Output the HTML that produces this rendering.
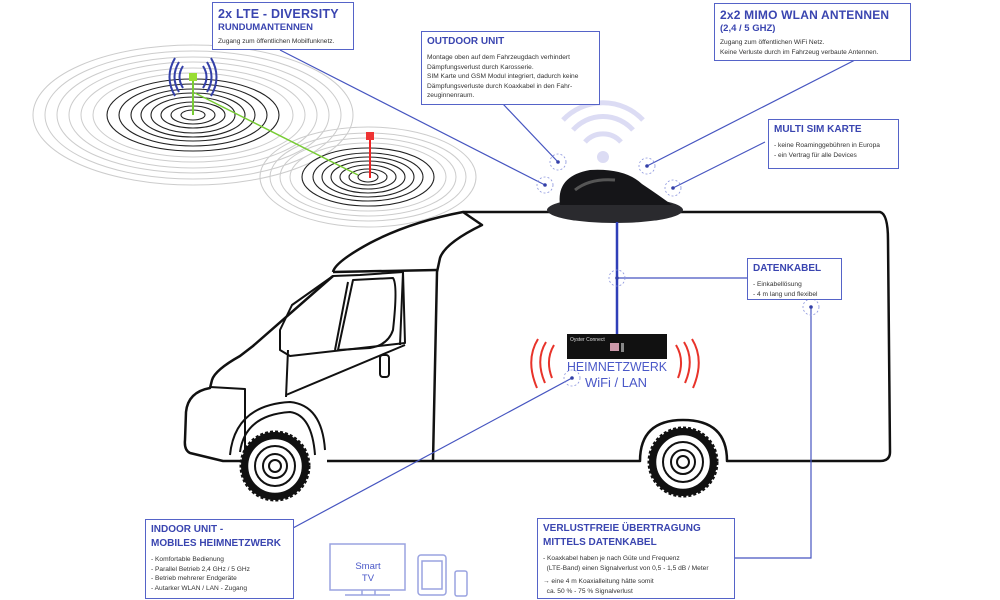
<!DOCTYPE html>
<html><head><meta charset="utf-8">
<style>
body{margin:0;width:1000px;height:600px;background:#fff;position:relative;overflow:hidden;font-family:"Liberation Sans","DejaVu Sans",sans-serif}
.box{position:absolute;border:1.5px solid #5563c8;background:#fff;box-sizing:border-box;padding:3px 5px;color:#333;font-size:6.6px;line-height:9.5px;white-space:nowrap}
.box h1{margin:0;font-size:12.5px;line-height:16px;color:#3a45b0;font-weight:bold;letter-spacing:.2px}
.box h2{margin:0 0 4px;font-size:10px;line-height:14px;color:#3a45b0;font-weight:bold}
svg{position:absolute;left:0;top:0}
</style></head><body>
<svg width="1000" height="600" viewBox="0 0 1000 600">
<g fill="none">
<g stroke="#ccc" stroke-width="1">
<ellipse cx="193" cy="115" rx="100" ry="42"/><ellipse cx="193" cy="115" rx="112" ry="47"/><ellipse cx="193" cy="115" rx="124" ry="53"/><ellipse cx="193" cy="115" rx="136" ry="58"/><ellipse cx="193" cy="115" rx="148" ry="64"/><ellipse cx="193" cy="115" rx="160" ry="70"/>
<ellipse cx="368" cy="177" rx="78" ry="34"/><ellipse cx="368" cy="177" rx="88" ry="39"/><ellipse cx="368" cy="177" rx="98" ry="44"/><ellipse cx="368" cy="177" rx="108" ry="50"/>
</g>
<g stroke="#222" stroke-width="1.1">
<ellipse cx="193" cy="115" rx="12" ry="5"/><ellipse cx="193" cy="115" rx="22" ry="9"/><ellipse cx="193" cy="115" rx="32" ry="13"/><ellipse cx="193" cy="115" rx="42" ry="18"/><ellipse cx="193" cy="115" rx="52" ry="22"/><ellipse cx="193" cy="115" rx="62" ry="26"/><ellipse cx="193" cy="115" rx="74" ry="31"/><ellipse cx="193" cy="115" rx="86" ry="36"/>
<ellipse cx="368" cy="177" rx="10" ry="5"/><ellipse cx="368" cy="177" rx="19" ry="8"/><ellipse cx="368" cy="177" rx="28" ry="12"/><ellipse cx="368" cy="177" rx="37" ry="16"/><ellipse cx="368" cy="177" rx="46" ry="20"/><ellipse cx="368" cy="177" rx="55" ry="24"/><ellipse cx="368" cy="177" rx="66" ry="29"/>
</g>
<line x1="195" y1="93" x2="358" y2="175" stroke="#7c3" stroke-width="1.5"/>
<line x1="193" y1="80" x2="193" y2="115" stroke="#7c3" stroke-width="2"/>
<rect x="189" y="73" width="8" height="8" fill="#9d3"/>
<path d="M183 66 Q176 77 183 88 M203 66 Q210 77 203 88 M179 62 Q170 77 179 92 M207 62 Q216 77 207 92 M175 58 Q164 77 175 96 M211 58 Q222 77 211 96" stroke="#3440a8" stroke-width="2"/>
<line x1="370" y1="140" x2="370" y2="178" stroke="#e22" stroke-width="2"/>
<rect x="366" y="132" width="8" height="8" fill="#e33"/>
<circle cx="603" cy="157" r="6" fill="#dcdcf4"/>
<path d="M585 142 A24 24 0 0 1 621 142 M573 130 A40 40 0 0 1 633 130 M563 120 A55 55 0 0 1 643 120" stroke="#dcdcf4" stroke-width="5"/>
<g stroke="#111" stroke-width="2.5" stroke-linejoin="round">
<path d="M463 212 L880 212 Q888 214 888 240 L890 452 Q890 461 880 461 L727 461 Q727 420 683 420 Q640 420 640 461 L433 461 L327 461 M245 461 L223 461 L190 453 Q184 450 185 440 L186 412 Q188 392 210 388 L212 380 Q215 370 240 356 L253 346 L333 276"/>
<path d="M333 272 Q335 262 370 243 Q410 222 463 212 L482 225 Q445 243 440 258 L437 272 L433 461"/>
<path d="M333 272 L437 270"/>
<path d="M333 276 L292 305 L280 330 L280 350 L290 356 L405 343 L403 272 L360 275 Z" stroke-width="2"/>
<path d="M348 282 L335 350 M403 272 L400 345" stroke-width="2"/>
<path d="M353 280 L393 278 Q398 285 393 330 Q388 345 370 348 L338 350 Z" stroke-width="2"/>
<path d="M288 350 L286 397 M286 395 L405 345" stroke-width="2"/>
<path d="M230 455 Q235 405 290 402 Q322 405 325 450 M240 452 Q245 415 290 412 Q312 415 315 455" stroke-width="2"/>
<path d="M210 387 L245 389 L245 452" stroke-width="2"/>
<rect x="380" y="355" width="9" height="22" rx="3" stroke-width="2"/>
</g>
<g stroke="#111">
<circle cx="275" cy="466" r="34" fill="#111" stroke-dasharray="3 2" stroke-width="3"/><circle cx="275" cy="466" r="28" fill="#fff" stroke-width="2.5"/><circle cx="275" cy="466" r="20" stroke-width="2"/><circle cx="275" cy="466" r="12" stroke-width="2"/><circle cx="275" cy="466" r="6" stroke-width="2"/>
<circle cx="683" cy="462" r="34" fill="#111" stroke-dasharray="3 2" stroke-width="3"/><circle cx="683" cy="462" r="28" fill="#fff" stroke-width="2.5"/><circle cx="683" cy="462" r="20" stroke-width="2"/><circle cx="683" cy="462" r="12" stroke-width="2"/><circle cx="683" cy="462" r="6" stroke-width="2"/>
</g>
<ellipse cx="615" cy="210" rx="68" ry="13" fill="#2a2a2e"/>
<path d="M560 205 Q556 176 590 170 Q625 168 642 184 Q660 196 672 205 Z" fill="#151518"/>
<path d="M575 190 Q590 178 615 180" stroke="#555" stroke-width="3"/>
<g stroke="#4655c0" stroke-width="1.2">
<line x1="280" y1="50" x2="545" y2="185"/>
<line x1="503" y1="104" x2="558" y2="162"/>
<line x1="855" y1="60" x2="647" y2="166"/>
<line x1="765" y1="142" x2="673" y2="188"/>
<line x1="747" y1="278" x2="616" y2="278"/>
<polyline points="811,307 811,558 734,558"/>
<line x1="293" y1="528" x2="572" y2="378"/>
<line x1="617" y1="222" x2="617" y2="336" stroke="#2f3fb8" stroke-width="2.5"/>
</g>
<g stroke="#8a94dd" stroke-dasharray="2 2" stroke-width="0.8" fill="none">
<circle cx="545" cy="185" r="8"/><circle cx="558" cy="162" r="8"/><circle cx="647" cy="166" r="8"/><circle cx="673" cy="188" r="8"/><circle cx="617" cy="278" r="8"/><circle cx="811" cy="307" r="8"/><circle cx="572" cy="378" r="8"/>
</g>
<g fill="#3440a8"><circle cx="545" cy="185" r="1.8"/><circle cx="558" cy="162" r="1.8"/><circle cx="647" cy="166" r="1.8"/><circle cx="673" cy="188" r="1.8"/><circle cx="617" cy="278" r="1.8"/><circle cx="811" cy="307" r="1.8"/><circle cx="572" cy="378" r="1.8"/></g>
<rect x="567" y="334" width="100" height="25" fill="#111"/>
<text x="570" y="341" font-size="5" fill="#ddd" font-family="Liberation Sans">Oyster Connect</text>
<rect x="610" y="343" width="9" height="8" fill="#c9a"/><rect x="621" y="343" width="3" height="9" fill="#888"/>
<g stroke="#e8332a" stroke-width="2">
<path d="M554 345 Q545 360 552 378 M546 342 Q535 360 545 383 M538 339 Q525 360 537 388"/>
<path d="M676 345 Q685 360 678 378 M684 342 Q695 360 685 383 M692 339 Q705 360 693 388"/>
</g>
<text x="567" y="371" textLength="100" lengthAdjust="spacingAndGlyphs" font-size="13" fill="#4a58c8" font-family="Liberation Sans">HEIMNETZWERK</text>
<text x="616" y="387" text-anchor="middle" font-size="13" fill="#4a58c8" font-family="Liberation Sans">WiFi / LAN</text>
<g stroke="#9aa3e0" stroke-width="1.5">
<rect x="330" y="544" width="75" height="46"/><path d="M345 595 L390 595 M362 590 L362 595 M375 590 L375 595"/>
<rect x="418" y="555" width="28" height="40" rx="3"/><rect x="422" y="561" width="20" height="28"/>
<rect x="455" y="571" width="12" height="25" rx="2"/>
</g>
<text x="368" y="569" text-anchor="middle" font-size="9.5" fill="#4a58c8" font-family="Liberation Sans">Smart</text>
<text x="368" y="581" text-anchor="middle" font-size="9.5" fill="#4a58c8" font-family="Liberation Sans">TV</text>
</g>
</svg>

<div class="box" style="left:212px;top:2px;width:142px;height:48px"><h1>2x LTE - DIVERSITY</h1><h2 style="font-size:9.5px;line-height:12px;margin-bottom:3px">RUNDUMANTENNEN</h2>Zugang zum öffentlichen Mobilfunknetz.</div>
<div class="box" style="left:421px;top:31px;width:179px;height:74px"><h2>OUTDOOR UNIT</h2>Montage oben auf dem Fahrzeugdach verhindert<br>Dämpfungsverlust durch Karosserie.<br>SIM Karte und GSM Modul integriert, dadurch keine<br>Dämpfungsverluste durch Koaxkabel in den Fahr-<br>zeuginnenraum.</div>
<div class="box" style="left:714px;top:3px;width:197px;height:58px"><h1 style="font-size:12px">2x2 MIMO WLAN ANTENNEN</h1><h2 style="font-size:9.5px;line-height:12px;margin-bottom:3px">(2,4 / 5 GHZ)</h2>Zugang zum öffentlichen WiFi Netz.<br>Keine Verluste durch im Fahrzeug verbaute Antennen.</div>
<div class="box" style="left:768px;top:119px;width:131px;height:50px"><h2>MULTI SIM KARTE</h2>- keine Roaminggebühren in Europa<br>- ein Vertrag für alle Devices</div>
<div class="box" style="left:747px;top:258px;width:95px;height:42px"><h2>DATENKABEL</h2>- Einkabellösung<br>- 4 m lang und flexibel</div>
<div class="box" style="left:145px;top:519px;width:149px;height:80px"><h2 style="line-height:14px">INDOOR UNIT -<br>MOBILES HEIMNETZWERK</h2>- Komfortable Bedienung<br>- Parallel Betrieb 2,4 GHz / 5 GHz<br>- Betrieb mehrerer Endgeräte<br>- Autarker WLAN / LAN - Zugang</div>
<div class="box" style="left:537px;top:518px;width:198px;height:81px"><h2 style="line-height:14px">VERLUSTFREIE ÜBERTRAGUNG<br>MITTELS DATENKABEL</h2>- Koaxkabel haben je nach Güte und Frequenz<br>&nbsp;&nbsp;(LTE-Band) einen Signalverlust von 0,5 - 1,5 dB / Meter<div style="height:4px"></div>→ eine 4 m Koaxialleitung hätte somit<br>&nbsp;&nbsp;ca. 50 % - 75 % Signalverlust</div>
</body></html>
